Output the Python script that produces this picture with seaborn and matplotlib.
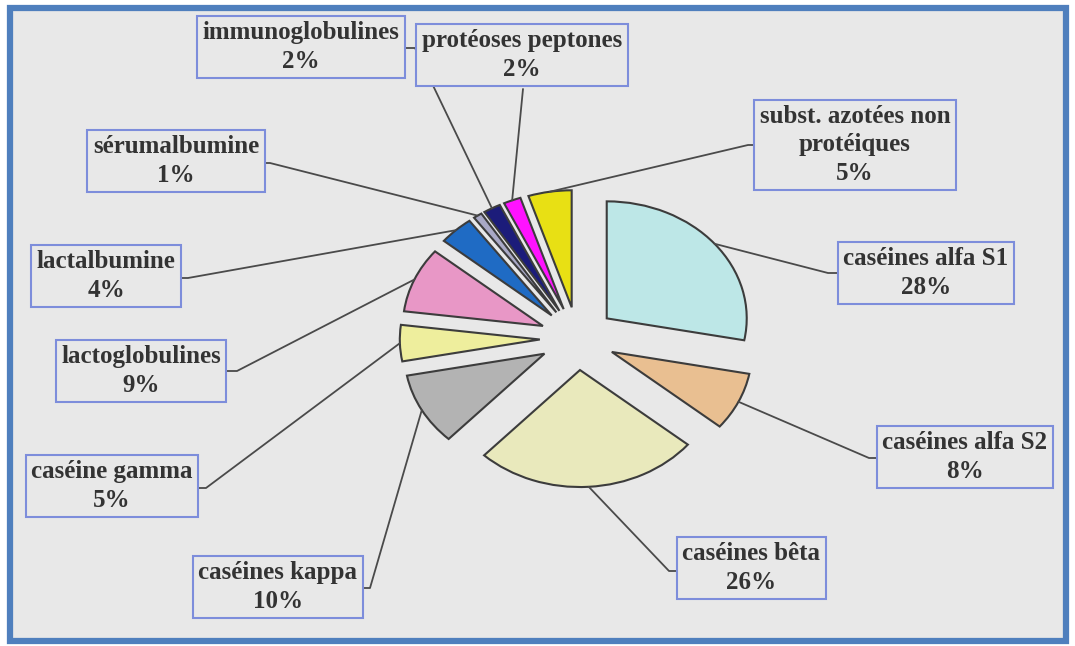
import numpy as np
import matplotlib
matplotlib.use("Agg")
import matplotlib.pyplot as plt
import seaborn as sns
from matplotlib.patches import Rectangle

sns.set_style("white")
plt.rcParams["font.family"] = ["Liberation Serif", "DejaVu Serif"]

# Données (composition des protéines du lait)
labels = ["caséines alfa S1", "caséines alfa S2", "caséines bêta", "caséines kappa",
          "caséine gamma", "lactoglobulines", "lactalbumine", "sérumalbumine",
          "immunoglobulines", "protéoses peptones", "subst. azotées non\nprotéiques"]
values = [28, 8, 26, 10, 5, 9, 4, 1, 2, 2, 5]
pct_labels = ["28%", "8%", "26%", "10%", "5%", "9%", "4%", "1%", "2%", "2%", "5%"]
colors = ["#bde7e7", "#e9bf91", "#e9e9bc", "#b3b3b3", "#eeee9d", "#e897c6",
          "#1f6bc4", "#a9a9c6", "#1c1c7a", "#ff12ff", "#e8e014"]

# centres des étiquettes (pixels depuis le coin haut-gauche)
box_px = [(926, 273), (965, 457), (751, 568), (278, 587), (112, 486), (141, 371),
          (106, 276), (176, 161), (301, 47), (522, 55), (855, 145)]
# point d'attache du trait sur le cadre + petit crochet horizontal (px)
anchor_px = [(837, 273, -9), (877, 458, -8), (677, 571, -8), (362, 588, 8),
             (197, 488, 9), (227, 371, 10), (180, 278, 8), (262, 163, 8),
             (403, 48, 12), (523, 89, 0), (756, 145, -8)]

W, H = 1075, 646
CX, CY, SX, SY = 577.6, 338.5, 140.0, 117.0  # centre du camembert et échelle (px)


def to_data(px, py):
    return (px - CX) / SX, (CY - py) / SY


fig = plt.figure(figsize=(W / 100, H / 100), dpi=100)
fig.patch.set_facecolor("white")
fig.patches.append(Rectangle((10 / W, 5 / H), 1056 / W, 633 / H, transform=fig.transFigure,
                             facecolor="#e8e8e8", edgecolor="#4f7fbd", linewidth=4.5,
                             zorder=-10))

ax = fig.add_axes([0, 0, 1, 1])
wedges, _ = ax.pie(values, colors=colors, startangle=90, counterclock=False,
                   explode=[0.27] * len(values),
                   wedgeprops=dict(edgecolor="#3c3c3c", linewidth=1.5))
ax.set_aspect("auto")
ax.set_xlim(to_data(0, 0)[0], to_data(W, 0)[0])
ax.set_ylim(to_data(0, H)[1], to_data(0, 0)[1])
ax.set_axis_off()
ax.patch.set_alpha(0)

for w, lab, pct, (bx, by), (axp, ayp, hook) in zip(wedges, labels, pct_labels,
                                                    box_px, anchor_px):
    ang = np.deg2rad((w.theta1 + w.theta2) / 2)
    cx, cy = w.center
    start = (cx + w.r * np.cos(ang), cy + w.r * np.sin(ang))
    elbow = to_data(axp + hook, ayp)
    end = to_data(axp, ayp)
    ax.plot([start[0], elbow[0], end[0]], [start[1], elbow[1], end[1]],
            color="#4a4a4a", lw=1.3, zorder=1)
    ax.text(*to_data(bx, by), f"{lab}\n{pct}", ha="center", va="center",
            multialignment="center", fontsize=18, fontweight="bold", color="#333333",
            linespacing=1.3,
            bbox=dict(boxstyle="square,pad=0.22", fc="#e8e8e8", ec="#7d8ddb", lw=1.5),
            zorder=3)

plt.savefig("out.png", dpi=100)
